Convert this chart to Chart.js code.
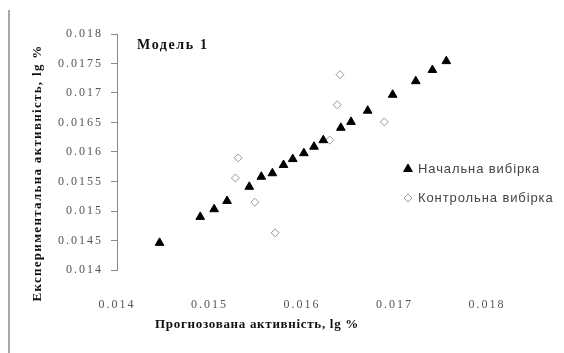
<!DOCTYPE html>
<html>
<head>
<meta charset="utf-8">
<script src="https://cdn.jsdelivr.net/npm/chart.js@4/dist/chart.umd.min.js"></script>
<style>
    html, body { margin: 0; padding: 0; background: #fff; }
    #wrap { position: relative; width: 564px; height: 353px; }
    #frame { position: absolute; left: 8px; top: 10px; width: 0; height: 343px; border-left: 2px solid #a8a8a8; }
</style>
</head>
<body>
<div id="wrap">
    <canvas id="myChart" width="564" height="353"></canvas>
    <div id="frame"></div>
</div>
<script>
// Начальна вибірка (training set)
const trainX = [0.01446, 0.01490, 0.01505, 0.01519, 0.01543, 0.01556, 0.01568, 0.01580, 0.01590,
    0.01602, 0.01613, 0.01623, 0.01642, 0.01653, 0.01671, 0.01698, 0.01723, 0.01741, 0.01756];
const trainY = [0.01446, 0.01490, 0.01503, 0.01517, 0.01541, 0.01558, 0.01564, 0.01578, 0.01588,
    0.01598, 0.01609, 0.01620, 0.01641, 0.01651, 0.01670, 0.01697, 0.01720, 0.01739, 0.01754];

// Контрольна вибірка (control set)
const testX = [0.01531, 0.01528, 0.01549, 0.01571, 0.01630, 0.01638, 0.01641, 0.01689];
const testY = [0.01590, 0.01556, 0.01515, 0.01463, 0.01620, 0.01680, 0.01731, 0.01651];

const seriesNames = ["Начальна вибірка", "Контрольна вибірка"];
const xTicks = [0.014, 0.015, 0.016, 0.017, 0.018];
const yTicks = [0.014, 0.0145, 0.015, 0.0155, 0.016, 0.0165, 0.017, 0.0175, 0.018];

const chartTitle = "Модель 1";
const xTitle = "Прогнозована активність, lg %";
const yTitle = "Експериментальна активність, lg %";

function toPoints(xs, ys) {
    return xs.map((x, i) => ({ x: x, y: ys[i] }));
}

const serif = "'Liberation Serif', 'Times New Roman', serif";

// tick labels in the picture are widely spaced
const spacingPlugin = {
    id: "spacing",
    beforeDraw(chart) { chart.ctx.letterSpacing = "2px"; },
    afterDatasetsDraw(chart) { chart.ctx.letterSpacing = "0px"; }
};

const textPlugin = {
    id: "texts",
    afterDraw(chart) {
        const ctx = chart.ctx;
        ctx.save();
        ctx.fillStyle = "#111";
        ctx.textBaseline = "middle";

        ctx.letterSpacing = "1.6px";
        ctx.font = "bold 14px " + serif;
        ctx.textAlign = "left";
        ctx.fillText(chartTitle, 137, 45);

        ctx.letterSpacing = "0.7px";
        ctx.font = "bold 13px " + serif;
        ctx.textAlign = "center";
        ctx.fillText(xTitle, 257, 325);

        ctx.save();
        ctx.translate(38, 173);
        ctx.rotate(-Math.PI / 2);
        ctx.letterSpacing = "1.3px";
        ctx.font = "bold 13px " + serif;
        ctx.fillText(yTitle, 0, 0);
        ctx.restore();

        // legend
        const rows = [169, 198];
        chart.data.datasets.forEach((ds, i) => {
            ctx.fillStyle = ds.backgroundColor;
            ctx.strokeStyle = ds.borderColor;
            ctx.lineWidth = ds.borderWidth;
            Chart.helpers.drawPoint(ctx, {
                pointStyle: ds.pointStyle,
                radius: ds.pointRadius,
                borderWidth: ds.borderWidth
            }, 408, rows[i]);
            ctx.fillStyle = "#444";
            ctx.letterSpacing = "0.9px";
            ctx.font = "13px 'Liberation Sans', Arial, sans-serif";
            ctx.textAlign = "left";
            ctx.fillText(ds.label, 418, rows[i]);
        });
        ctx.restore();
    }
};

const ctx = document.getElementById("myChart").getContext("2d");

const chart = new Chart(ctx, {
    type: "scatter",
    data: {
        datasets: [
            {
                label: seriesNames[0],
                data: toPoints(trainX, trainY),
                pointStyle: "triangle",
                pointRadius: 5,
                backgroundColor: "#000",
                borderColor: "#000",
                borderWidth: 1
            },
            {
                label: seriesNames[1],
                data: toPoints(testX, testY),
                pointStyle: "rectRot",
                pointRadius: 4,
                backgroundColor: "#fff",
                borderColor: "#999",
                borderWidth: 1
            }
        ]
    },
    options: {
        responsive: false,
        animation: false,
        layout: {
            padding: { left: 0, top: 34, right: 77, bottom: 0 }
        },
        plugins: {
            legend: { display: false },
            tooltip: { enabled: false }
        },
        scales: {
            x: {
                type: "linear",
                min: 0.014,
                max: 0.018,
                afterBuildTicks: (scale) => { scale.ticks = xTicks.map(v => ({ value: v })); },
                afterFit: (scale) => { scale.height = 83; },
                grid: { display: false },
                border: { display: false },
                ticks: {
                    padding: 20,
                    color: "#555",
                    font: { family: serif, size: 12 },
                    maxRotation: 0,
                    callback: (v) => String(v)
                }
            },
            y: {
                type: "linear",
                min: 0.014,
                max: 0.018,
                afterBuildTicks: (scale) => { scale.ticks = yTicks.map(v => ({ value: v })); },
                afterFit: (scale) => { scale.width = 117; },
                grid: {
                    display: true,
                    drawOnChartArea: false,
                    drawTicks: true,
                    tickLength: 6,
                    color: "#888"
                },
                border: { display: true, color: "#888", width: 1 },
                ticks: {
                    padding: 8,
                    color: "#555",
                    font: { family: serif, size: 12 },
                    callback: (v) => String(v)
                }
            }
        }
    },
    plugins: [spacingPlugin, textPlugin]
});
</script>
</body>
</html>
